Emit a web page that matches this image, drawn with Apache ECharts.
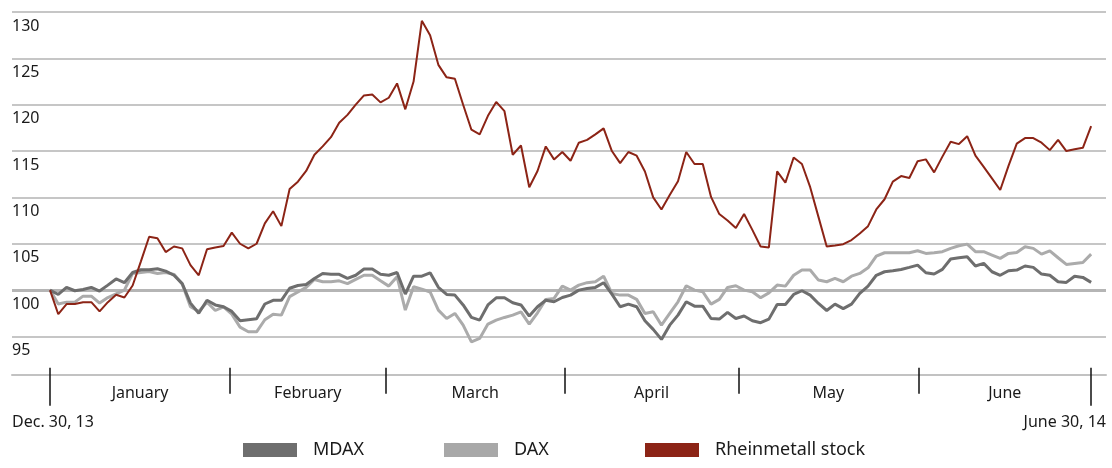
<!DOCTYPE html>
<html>
<head>
<meta charset="utf-8">
<script src="https://cdn.jsdelivr.net/npm/echarts@6/dist/echarts.min.js"></script>
<style>
  html, body { margin: 0; padding: 0; background: #fff; }
  #main { width: 1112px; height: 468px; }
</style>
</head>
<body>
<div id="main"></div>
<script>
// index values, Dec. 30, 2013 = 100, one value per trading day
var rheinmetall = [
  100, 97.4, 98.5, 98.5, 98.7, 98.7, 97.7, 98.7, 99.5, 99.2,
  100.5, 103.1, 105.75, 105.6, 104.1, 104.7, 104.5, 102.7, 101.6, 104.4,
  104.6, 104.75, 106.2, 105.0, 104.5, 105.0, 107.2, 108.5, 106.9, 110.9,
  111.7, 112.85, 114.6, 115.5, 116.5, 118.05, 118.9, 120.0, 121.0, 121.1,
  120.25, 120.75, 122.3, 119.5, 122.5, 129.05, 127.5, 124.3, 122.95, 122.8,
  120.0, 117.3, 116.8, 118.8, 120.3, 119.3, 114.6, 115.6, 111.1, 112.85,
  115.5, 114.1, 114.9, 113.95, 115.9, 116.2, 116.8, 117.45, 115.0, 113.7,
  114.9, 114.5, 112.8, 110.0, 108.7, 110.25, 111.75, 114.9, 113.6, 113.6,
  110.05, 108.2, 107.5, 106.7, 108.2, 106.5, 104.7, 104.6, 112.8, 111.6,
  114.3, 113.6, 111.1, 107.9, 104.7, 104.8, 104.95, 105.4, 106.1, 106.9,
  108.7, 109.8, 111.7, 112.3, 112.1, 113.9, 114.1, 112.7, 114.4, 116.0,
  115.75, 116.6, 114.5, 113.3, 112.05, 110.8, 113.4, 115.8, 116.4, 116.4,
  115.9, 115.1, 116.2, 115.0, 115.2, 115.35, 117.7
];
var mdax = [
  100, 99.53, 100.29, 99.93, 100.07, 100.29, 99.9, 100.54, 101.2, 100.8,
  101.9, 102.2, 102.2, 102.3, 102.05, 101.6, 100.7, 98.6, 97.5, 98.9,
  98.4, 98.2, 97.7, 96.7, 96.8, 96.9, 98.5, 98.9, 98.9, 100.2,
  100.5, 100.6, 101.26, 101.8, 101.7, 101.7, 101.26, 101.6, 102.27, 102.27,
  101.7, 101.6, 101.9, 99.57, 101.5, 101.5, 101.87, 100.3, 99.53, 99.46,
  98.4, 97.05, 96.76, 98.4, 99.17, 99.17, 98.63, 98.4, 97.2, 98.2,
  98.9, 98.74, 99.2, 99.46, 100.0, 100.18, 100.29, 100.8, 99.57, 98.2,
  98.49, 98.2, 96.7, 95.76, 94.68, 96.22, 97.3, 98.74, 98.27, 98.27,
  96.94, 96.87, 97.6, 96.94, 97.2, 96.7, 96.48, 96.87, 98.45, 98.45,
  99.53, 99.93, 99.46, 98.56, 97.8, 98.49, 98.0, 98.49, 99.64, 100.43,
  101.6, 101.98, 102.09, 102.23, 102.45, 102.7, 101.87, 101.73, 102.23, 103.35,
  103.49, 103.6, 102.6, 102.88, 101.98, 101.6, 102.09, 102.16, 102.6, 102.45,
  101.73, 101.6, 100.9, 100.83, 101.5, 101.37, 100.83
];
var dax = [
  100, 98.5, 98.7, 98.7, 99.35, 99.35, 98.6, 99.2, 99.6, 100.0,
  101.8, 101.9, 102.0, 101.8, 101.9, 101.7, 100.65, 98.2, 97.7, 98.7,
  97.8, 98.2, 97.4, 96.0, 95.5, 95.5, 96.8, 97.4, 97.3, 99.3,
  99.8, 100.3, 101.15, 100.9, 100.9, 101.0, 100.7, 101.15, 101.6, 101.6,
  101.0, 100.43, 101.44, 97.84, 100.36, 100.1, 99.8, 97.84, 96.94, 97.48,
  96.22, 94.42, 94.79, 96.33, 96.76, 97.05, 97.3, 97.66, 96.33, 97.55,
  99.0, 99.1, 100.43, 100.0, 100.54, 100.8, 100.9, 101.5, 99.64, 99.46,
  99.46, 99.0, 97.48, 97.66, 96.22, 97.48, 98.74, 100.47, 100.0, 99.82,
  98.49, 99.0, 100.29, 100.47, 100.0, 99.82, 99.17, 99.7, 100.54, 100.43,
  101.6, 102.16, 102.16, 101.08, 100.9, 101.26, 100.9, 101.5, 101.8, 102.4,
  103.67, 104.03, 104.03, 104.03, 104.03, 104.24, 103.96, 104.03, 104.14, 104.5,
  104.78, 104.96, 104.14, 104.14, 103.78, 103.42, 103.96, 104.06, 104.67, 104.5,
  103.88, 104.24, 103.49, 102.77, 102.88, 102.98, 103.88
];

var months = ['January', 'February', 'March', 'April', 'May', 'June'];
// month dividers, in trading-day index
var monthBounds = [0, 21.8, 40.6, 62.3, 83.3, 105.1, 126];
var endLabels = ['Dec. 30, 13', 'June 30, 14'];
var yTicks = { min: 90, max: 130, step: 5 };

var monthMids = months.map(function (m, i) {
  return (monthBounds[i] + monthBounds[i + 1]) / 2;
});
function toPairs(arr) {
  return arr.map(function (v, i) { return [i, v]; });
}

var font = '"Noto Sans", "Open Sans", sans-serif';
var textColor = '#1a1a1a';
var xMin = -4.6, xMax = 127.8;

var chart = echarts.init(document.getElementById('main'));

var legendBase = {
  icon: 'rect',
  itemWidth: 54,
  itemHeight: 14,
  top: 441,
  padding: 0,
  selectedMode: false,
  textStyle: { fontFamily: font, fontSize: 18, color: textColor, padding: [0, 0, 0, 11] }
};

chart.setOption({
  animation: false,
  backgroundColor: '#fff',
  textStyle: { fontFamily: font },
  grid: {
    left: 12, right: 6, top: 12, bottom: 85.2,
    containLabel: false,
    outerBoundsMode: 'none'
  },
  legend: [
    Object.assign({}, legendBase, { data: ['MDAX'], left: 243 }),
    Object.assign({}, legendBase, { data: ['DAX'], left: 444 }),
    Object.assign({}, legendBase, { data: ['Rheinmetall stock'], left: 645 })
  ],
  xAxis: [
    {
      type: 'value', min: xMin, max: xMax,
      position: 'bottom', offset: -7.8,
      splitLine: { show: false },
      axisLine: { show: true, lineStyle: { color: '#c2c2c2', width: 2 } },
      axisTick: { show: false },
      axisLabel: {
        customValues: monthMids,
        margin: 10,
        fontFamily: font, fontSize: 16, color: textColor,
        formatter: function (v) {
          var k = monthMids.findIndex(function (m) { return Math.abs(m - v) < 0.01; });
          return k >= 0 ? months[k] : '';
        }
      }
    },
    {
      type: 'value', min: xMin, max: xMax,
      position: 'bottom', offset: -15,
      splitLine: { show: false },
      axisLine: { show: false },
      axisLabel: { show: false },
      axisTick: {
        show: true, customValues: monthBounds, length: 26,
        lineStyle: { color: '#111', width: 1.5 }
      }
    },
    {
      type: 'value', min: xMin, max: xMax,
      position: 'bottom', offset: -15,
      splitLine: { show: false },
      axisLine: { show: false },
      axisLabel: { show: false },
      axisTick: {
        show: true, customValues: [monthBounds[0], monthBounds[monthBounds.length - 1]], length: 38,
        lineStyle: { color: '#111', width: 1.5 }
      }
    }
  ],
  yAxis: {
    type: 'value', min: yTicks.min, max: yTicks.max, interval: yTicks.step,
    axisLine: { show: false },
    axisTick: { show: false },
    splitLine: { show: true, showMinLine: false, lineStyle: { color: '#c6c6c6', width: 2 } },
    axisLabel: {
      showMinLabel: false,
      align: 'left', margin: 0,
      verticalAlign: 'top', padding: [6, 0, 0, 0],
      fontFamily: font, fontSize: 16, color: textColor
    }
  },
  graphic: [
    { type: 'text', left: 12, top: 414, style: { text: endLabels[0], font: '16px ' + font, fill: textColor } },
    { type: 'text', right: 6, top: 414, style: { text: endLabels[1], font: '16px ' + font, fill: textColor } }
  ],
  series: [
    {
      name: 'DAX', type: 'line', data: toPairs(dax), showSymbol: false, symbol: 'none',
      lineStyle: { color: '#ababab', width: 3 }, itemStyle: { color: '#a8a8a8' },
      markLine: {
        silent: true, z: 1, symbol: 'none', label: { show: false },
        lineStyle: { color: '#b5b5b5', width: 3, type: 'solid' },
        data: [{ yAxis: 100 }]
      }
    },
    {
      name: 'MDAX', type: 'line', data: toPairs(mdax), showSymbol: false, symbol: 'none',
      lineStyle: { color: '#6e6e6e', width: 3 }, itemStyle: { color: '#6e6e6e' }
    },
    {
      name: 'Rheinmetall stock', type: 'line', data: toPairs(rheinmetall), showSymbol: false, symbol: 'none',
      lineStyle: { color: '#8c2416', width: 2 }, itemStyle: { color: '#8c2416' }
    }
  ]
});
</script>
</body>
</html>
